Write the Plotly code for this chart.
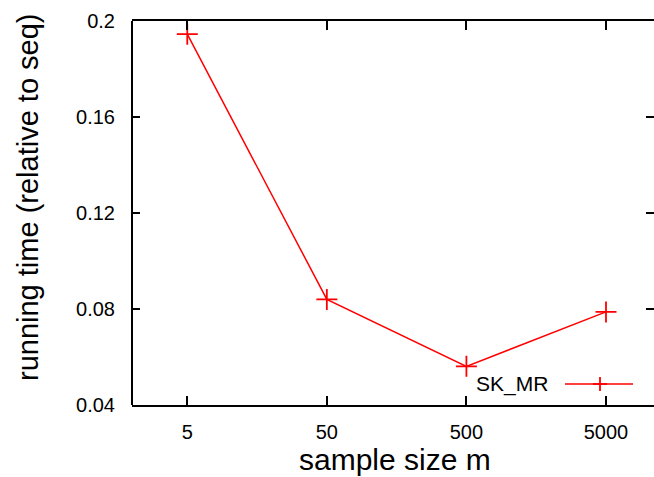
import plotly.graph_objects as go

categories = ["5", "50", "500", "5000"]
sk_mr = [0.1945, 0.0840, 0.0561, 0.0788]
y_ticks = [0.04, 0.08, 0.12, 0.16, 0.2]
y_ticktext = ["0.04", "0.08", "0.12", "0.16", "0.2"]

W, H = 654, 477
L, R, T, B = 132, 0, 21, 72
PW, PH = W - L - R, H - T - B

def px(x):
    return (x - L) / PW

def py(y):
    return (H - B - y) / PH

FONT = "Liberation Sans, Arial, sans-serif"
idx = list(range(len(categories)))

fig = go.Figure()
fig.add_trace(go.Scatter(
    x=idx, y=sk_mr, mode="lines+markers", name="SK_MR",
    line=dict(color="#ff0000", width=1.5),
    marker=dict(symbol="cross-thin", size=15, line=dict(color="#ff0000", width=1.8), color="#ff0000"),
    showlegend=False,
))

fig.update_layout(
    width=W, height=H,
    margin=dict(l=L, r=R, t=T, b=B),
    paper_bgcolor="white", plot_bgcolor="white",
    font=dict(family=FONT, color="black"),
    xaxis=dict(
        range=[-0.396, 3.344], tickmode="array", tickvals=idx, ticktext=categories,
        showgrid=False, zeroline=False, showline=True, linecolor="black", linewidth=2,
        mirror="ticks", ticks="inside", ticklen=9, tickwidth=1.5, tickcolor="black",
        tickfont=dict(size=20, family=FONT), ticklabelstandoff=8,
    ),
    yaxis=dict(
        range=[0.04, 0.2], tickmode="array", tickvals=y_ticks, ticktext=y_ticktext,
        showgrid=False, zeroline=False, showline=False,
        mirror="ticks", ticks="inside", ticklen=8, tickwidth=1.5, tickcolor="black",
        tickfont=dict(size=20, family=FONT), ticklabelstandoff=16,
    ),
    shapes=[
        dict(type="line", xref="paper", yref="paper", x0=0, x1=0, y0=0, y1=1,
             line=dict(color="black", width=2)),
        dict(type="line", xref="paper", yref="paper", x0=px(565), x1=px(633), y0=py(384), y1=py(384),
             line=dict(color="#ff0000", width=1.5)),
        dict(type="line", xref="paper", yref="paper", x0=px(593), x1=px(607), y0=py(384), y1=py(384),
             line=dict(color="#ff0000", width=1.8)),
        dict(type="line", xref="paper", yref="paper", x0=px(600), x1=px(600), y0=py(377), y1=py(391),
             line=dict(color="#ff0000", width=1.8)),
    ],
    annotations=[
        dict(text="running time (relative to seq)", xref="paper", yref="paper",
             x=px(28), y=py(197), textangle=-90, showarrow=False,
             xanchor="center", yanchor="middle", font=dict(size=29, family=FONT)),
        dict(text="sample size m", xref="paper", yref="paper",
             x=px(395), y=py(459), showarrow=False,
             xanchor="center", yanchor="middle", font=dict(size=30, family=FONT)),
        dict(text="SK_MR", xref="paper", yref="paper",
             x=px(550), y=py(384), showarrow=False,
             xanchor="right", yanchor="middle", font=dict(size=21, family=FONT)),
    ],
)

fig.write_html(
    "out.html",
    config={"displayModeBar": False},
    post_script="document.body.style.margin='0px';document.body.style.overflow='hidden';",
)
